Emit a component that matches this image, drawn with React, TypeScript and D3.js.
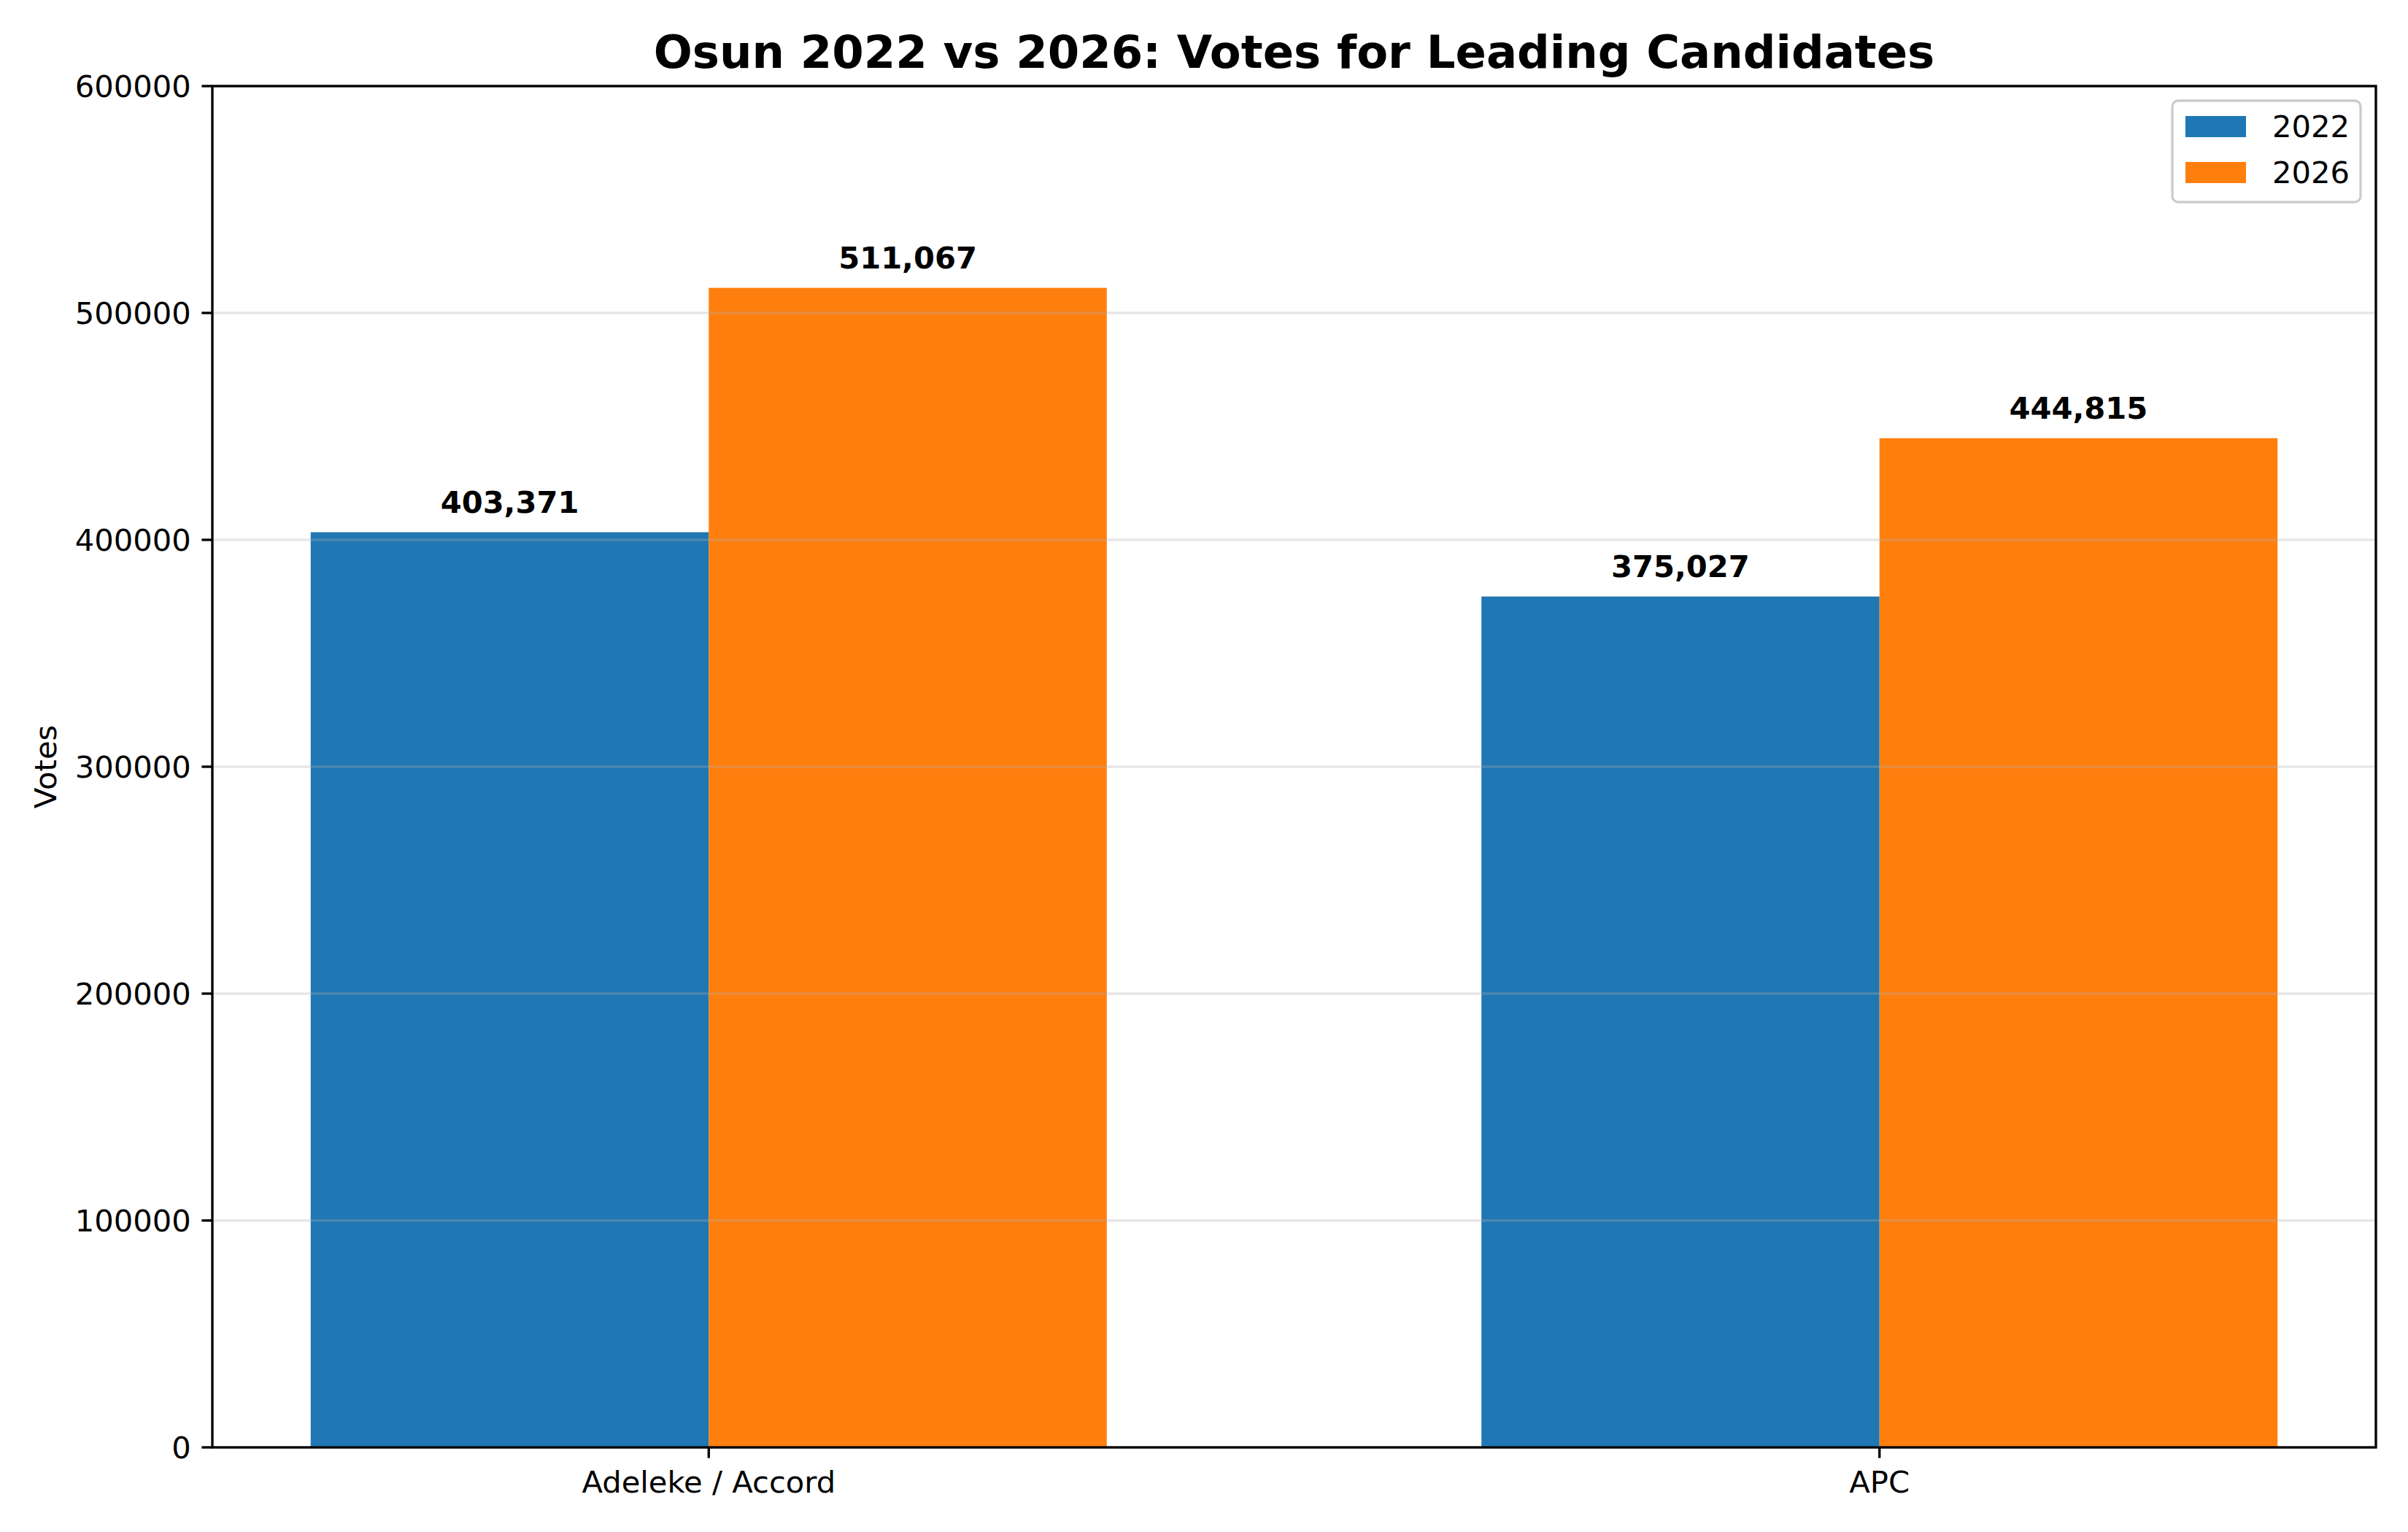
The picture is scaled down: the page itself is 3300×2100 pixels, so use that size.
import React from 'react';
import * as d3 from 'd3';

// Osun governorship: votes for the two leading candidates
const candidates = ['Adeleke / Accord', 'APC'];
const years = ['2022', '2026'];
const votes2022 = [403371, 375027];
const votes2026 = [511067, 444815];
const yTicks = [0, 100000, 200000, 300000, 400000, 500000, 600000];
const colors = ['#1f77b4', '#ff7f0e'];

const W = 3300;
const H = 2100;
const margin = { top: 118, right: 44, bottom: 116, left: 291 };
const barWidth = 0.34;
const fontFamily = '"DejaVu Sans", sans-serif';
const fs = 41.67; // 10pt at 300 dpi

export default function App() {
  const series = [votes2022, votes2026];
  const lo = -barWidth;
  const hi = candidates.length - 1 + barWidth;
  const pad = (hi - lo) * 0.05;

  const x = d3
    .scaleLinear()
    .domain([lo - pad, hi + pad])
    .range([margin.left, W - margin.right]);
  const y = d3
    .scaleLinear()
    .domain([0, 600000])
    .range([H - margin.bottom, margin.top]);

  const [x0, x1] = x.range();
  const [yb, yt] = y.range();
  const fmt = d3.format(',');
  const spine = 3.33;
  const tickLen = 14.6;

  return (
    <div style={{ position: 'absolute', left: 0, top: 0 }}>
      <svg width={W} height={H} style={{ display: 'block', background: '#fff' }} fontFamily={fontFamily}>
        {/* bars */}
        {series.map((vals, s) =>
          vals.map((v, i) => {
            const left = x(i + (s === 0 ? -barWidth : 0));
            const right = x(i + (s === 0 ? 0 : barWidth));
            return (
              <rect
                key={`b-${s}-${i}`}
                x={left}
                y={y(v)}
                width={right - left}
                height={yb - y(v)}
                fill={colors[s]}
              />
            );
          })
        )}

        {/* grid over bars, like matplotlib's default zorder */}
        {yTicks.map((t) => (
          <line key={`g-${t}`} x1={x0} x2={x1} y1={y(t)} y2={y(t)} stroke="#b0b0b0" strokeOpacity={0.3} strokeWidth={3.33} />
        ))}

        {/* value labels */}
        {series.map((vals, s) =>
          vals.map((v, i) => (
            <text
              key={`v-${s}-${i}`}
              x={x(i + (s === 0 ? -barWidth / 2 : barWidth / 2))}
              y={y(v) - 27}
              textAnchor="middle"
              fontSize={fs}
              fontWeight="bold"
              fill="#000"
            >
              {fmt(v)}
            </text>
          ))
        )}

        {/* spines */}
        <rect x={x0} y={yt} width={x1 - x0} height={yb - yt} fill="none" stroke="#000" strokeWidth={spine} />

        {/* y axis */}
        {yTicks.map((t) => (
          <g key={`yt-${t}`}>
            <line x1={x0 - tickLen} x2={x0} y1={y(t)} y2={y(t)} stroke="#000" strokeWidth={3.33} />
            <text x={x0 - tickLen - 14.6} y={y(t)} dy="0.36em" textAnchor="end" fontSize={fs} fill="#000">
              {t}
            </text>
          </g>
        ))}
        <text
          transform={`translate(${62},${(yt + yb) / 2}) rotate(-90)`}
          textAnchor="middle"
          dy="0.36em"
          fontSize={fs}
          fill="#000"
        >
          Votes
        </text>

        {/* x axis */}
        {candidates.map((c, i) => (
          <g key={`xt-${c}`}>
            <line x1={x(i)} x2={x(i)} y1={yb} y2={yb + tickLen} stroke="#000" strokeWidth={3.33} />
            <text x={x(i)} y={2046} textAnchor="middle" fontSize={fs} fill="#000">
              {c}
            </text>
          </g>
        ))}

        {/* title */}
        <text x={(x0 + x1) / 2} y={93} textAnchor="middle" fontSize={62.5} fontWeight="bold" fill="#000">
          Osun 2022 vs 2026: Votes for Leading Candidates
        </text>

        {/* legend */}
        <g>
          <rect x={2977} y={138} width={258} height={139} rx={8} fill="#fff" fillOpacity={0.8} stroke="#cccccc" strokeWidth={3.33} />
          {years.map((yr, s) => (
            <g key={`lg-${yr}`} transform={`translate(2995,${159 + s * 63})`}>
              <rect x={0} y={0} width={83} height={29} fill={colors[s]} />
              <text x={119} y={29} fontSize={fs} fill="#000">
                {yr}
              </text>
            </g>
          ))}
        </g>
      </svg>
    </div>
  );
}
